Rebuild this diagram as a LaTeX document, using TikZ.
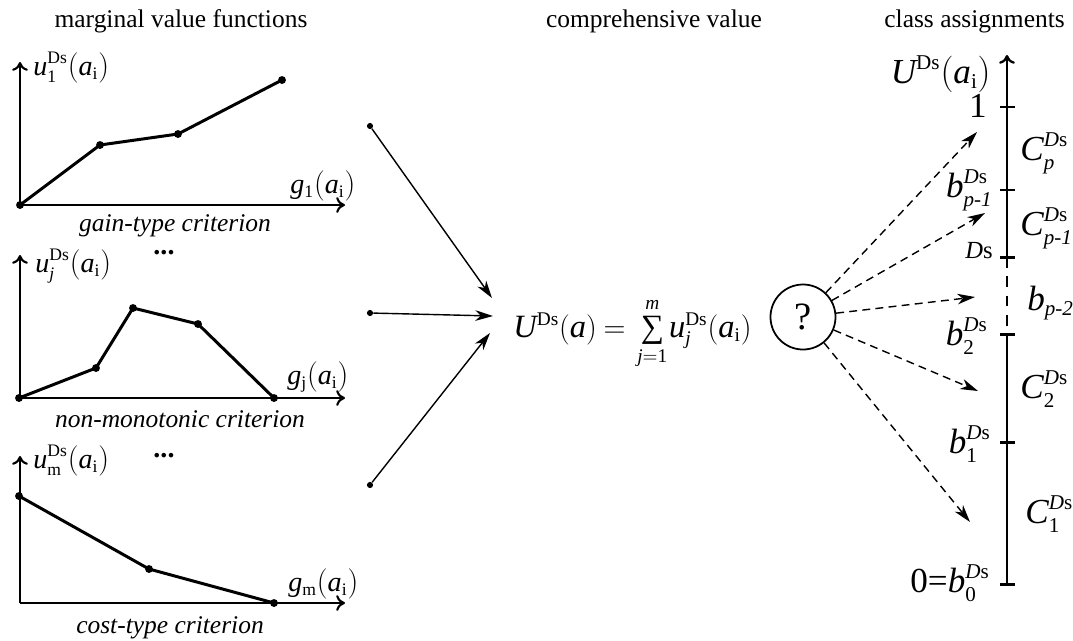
\documentclass[tikz,border=0pt]{standalone}
\usepackage{amsmath}
\usepackage{fontspec}
\setmainfont{Liberation Serif}
\usetikzlibrary{arrows.meta}
\DeclareMathSizes{20}{20}{12}{9}
\DeclareMathSizes{18.5}{18.5}{11}{8}
\DeclareMathSizes{16}{16}{10}{8}
\DeclareMathSizes{14}{14}{9}{7}
\newcommand{\mi}[1]{\mathit{#1}}
\newcommand{\mr}[1]{\mathrm{#1}}
\newcommand{\szA}{\fontsize{14.5}{17}\selectfont}
\newcommand{\szB}{\fontsize{14.5}{17}\selectfont}
\newcommand{\szC}{\fontsize{16}{19}\selectfont}
\newcommand{\szD}{\fontsize{20}{24}\selectfont}
\newcommand{\szF}{\fontsize{18.5}{22}\selectfont}
\newcommand{\SUM}{\mathop{\text{∑}}\limits}
\begin{document}
\begin{tikzpicture}[x=0.02cm,y=-0.02cm,
  axis/.style={line width=1.2pt,-{To[length=5pt,width=9pt,line width=1.2pt]}},
  curve/.style={line width=1.7pt,line join=round},
  dot/.style={circle,fill=black,inner sep=0pt,minimum size=4.5pt},
  sdot/.style={circle,fill=black,inner sep=0pt,minimum size=3.5pt},
  title/.style={font=\szA},
  crit/.style={font=\szB\itshape},
  lab/.style={font=\szC,inner sep=0pt},
  big/.style={font=\szD,inner sep=0pt},
  feed/.style={line width=0.8pt,-{Stealth[length=10pt,width=6pt,inset=3pt]}},
  guess/.style={line width=0.8pt,dash pattern=on 4.5pt off 3pt,-{Stealth[length=10pt,width=6pt,inset=3pt]}},
  scaleline/.style={line width=1.7pt},
  tickline/.style={line width=1.7pt}]
\useasboundingbox (0,0) rectangle (1073,640);

% titles
\node[title] (t1) at (181,21) {marginal value functions};
\node[title] (t2) at (654,21) {comprehensive value};
\node[title,anchor=east] (t3) at (1071,21) {class assignments};

% graph 1 (gain type)
\coordinate (o1) at (20,205);
\draw[axis] (o1) -- (20,62);
\draw[axis] (o1) -- (345,205);
\draw[curve] (20,205) -- (100,145) -- (178,134) -- (282,80);
\foreach \p in {(20,205),(100,145),(178,134),(282,80)} \node[dot] at \p {};
\node[lab,anchor=base west] (u1) at (33,75) {$\mi{u}_{\mr{1}}^{\mr{Ds}}\mr{(}\mi{a}_{\mr{i}}\mr{)}$};
\node[lab,anchor=base west] (g1) at (290,193) {$\mi{g}_{\mr{1}}\mr{(}\mi{a}_{\mr{i}}\mr{)}$};
\node[crit] (c1) at (175,226) {gain-type criterion};

% graph 2 (non-monotonic)
\coordinate (o2) at (20,398);
\draw[axis] (o2) -- (20,255);
\draw[axis] (o2) -- (345,398);
\draw[curve] (19,398) -- (96,368) -- (133,308) -- (198,324) -- (274,398);
\foreach \p in {(19,398),(96,368),(133,308),(198,324),(274,398)} \node[dot] at \p {};
\node[lab,anchor=base west] (uj) at (35,272) {$\mi{u}_{\mi{j}}^{\mr{Ds}}\mr{(}\mi{a}_{\mr{i}}\mr{)}$};
\node[lab,font=\szC\bfseries] (d2) at (164,253) {...};
\node[lab,anchor=base west] (gj) at (287,384) {$\mi{g}_{\mr{j}}\mr{(}\mi{a}_{\mr{i}}\mr{)}$};
\node[crit] (c2) at (180,419) {non-monotonic criterion};

% graph 3 (cost type)
\coordinate (o3) at (20,603);
\draw[axis] (o3) -- (20,456);
\draw[axis] (o3) -- (345,603);
\draw[curve] (19,496) -- (149,569) -- (274,603);
\foreach \p in {(19,496),(149,569),(274,603)} \node[dot] at \p {};
\node[lab,anchor=base west] (um) at (33,468) {$\mi{u}_{\mr{m}}^{\mr{Ds}}\mr{(}\mi{a}_{\mr{i}}\mr{)}$};
\node[lab,font=\szC\bfseries] (d3) at (164,456) {...};
\node[lab,anchor=base west] (gm) at (288,591) {$\mi{g}_{\mr{m}}\mr{(}\mi{a}_{\mr{i}}\mr{)}$};
\node[crit] (c3) at (170,628) {cost-type criterion};

% aggregation arrows
\node[sdot] (s1) at (370,126) {};
\node[sdot] (s2) at (370,313) {};
\node[sdot] (s3) at (370,485) {};
\coordinate (e1) at (492,298);
\coordinate (e2) at (493,316);
\coordinate (e3) at (490,333);
\draw[feed] (s1) -- (e1);
\draw[feed] (s2) -- (e2);
\draw[feed] (s3) -- (e3);

% formula
\node[font=\szF,inner sep=0pt,anchor=base west] (f) at (513,337)
  {$\mi{U}^{\mr{Ds}}\mr{(}\mi{a}\mr{)}\mskip4mu\mr{=}\mskip4mu\SUM_{\mi{j}\mr{=1}}^{\mi{m}}\mskip-2mu\mi{u}_{\mi{j}}^{\mr{Ds}}\mr{(}\mi{a}_{\mr{i}}\mr{)}$};

% question circle
\node[draw,circle,line width=1pt,minimum size=37pt,inner sep=0pt,font=\fontsize{22}{26}\selectfont] (q) at (803,317) {?};

% right scale
\coordinate (ax0) at (1007,584);
\coordinate (axT) at (1007,55);
\coordinate (k1) at (1007,107);
\coordinate (kp1) at (1007,190);
\coordinate (kp2) at (1007,257);
\coordinate (kb2) at (1007,334);
\coordinate (kb1) at (1007,442);
\draw[scaleline,-{To[length=5pt,width=9pt,line width=1.3pt]}] (kp2) -- (axT);
\draw[scaleline,dash pattern=on 6pt off 5pt] (kp2) -- (kb2);
\draw[scaleline] (ax0) -- (kb2);
\foreach \c in {k1,kp1,kp2,kb2,kb1,ax0} \draw[tickline] ([xshift=-0.14cm]\c) -- ([xshift=0.16cm]\c);

\node[big,anchor=base east] (ul) at (991,83) {$\mi{U}^{\mr{Ds}}\mr{(}\mi{a}_{\mr{i}}\mr{)}$};
\node[big,anchor=base east] (l1) at (987,117) {1};
\node[big,anchor=base east] (lp1) at (993,197) {$\mi{b}_{\text{\itshape p-1}}^{\mi{D}\mr{s}}$};
\node[font=\fontsize{14}{17}\selectfont,inner sep=0pt,anchor=base east] (lds) at (993,258) {$\mi{D}\mr{s}$};
\node[big,anchor=base east] (lb2) at (988,345) {$\mi{b}_{\mr{2}}^{\mi{D}\mr{s}}$};
\node[big,anchor=base east] (lb1) at (991,453) {$\mi{b}_{\mr{1}}^{\mi{D}\mr{s}}$};
\node[big,anchor=base east] (lb0) at (990,592) {$\text{0=}\mi{b}_{\mr{0}}^{\mi{D}\mr{s}}$};

\node[big,anchor=base west] (cp) at (1020,160) {$\mi{C}_{\mi{p}}^{\mi{D}\mr{s}}$};
\node[big,anchor=base west] (cp1) at (1020,235) {$\mi{C}_{\text{\itshape p-1}}^{\mi{D}\mr{s}}$};
\node[big,anchor=base west] (bp2) at (1027,310) {$\mi{b}_{\text{\itshape p-2}}$};
\node[big,anchor=base west] (c2r) at (1020,398) {$\mi{C}_{\mr{2}}^{\mi{D}\mr{s}}$};
\node[big,anchor=base west] (c1r) at (1025,523) {$\mi{C}_{\mr{1}}^{\mi{D}\mr{s}}$};

% guesses
\coordinate (a1) at (977,132);
\coordinate (a2) at (985,213);
\coordinate (a3) at (975,297);
\coordinate (a4) at (978,391);
\coordinate (a5) at (970,522);
\foreach \t in {a1,a2,a3,a4,a5} \draw[guess] (q) -- (\t);
\end{tikzpicture}
\end{document}
